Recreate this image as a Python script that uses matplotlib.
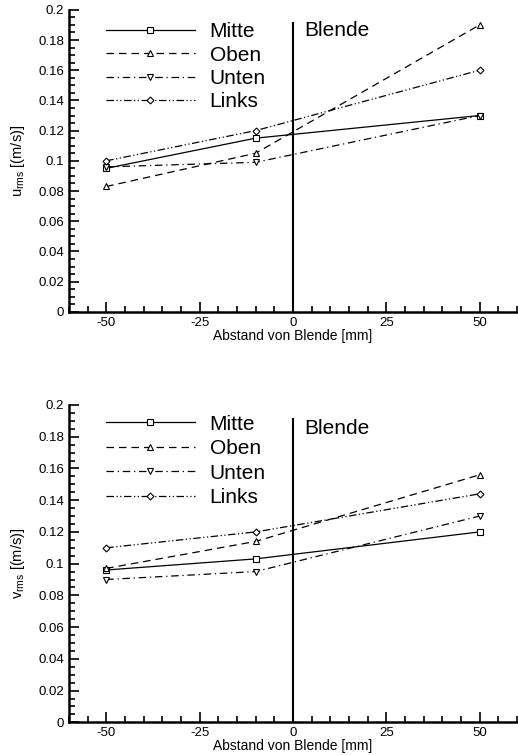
import matplotlib
matplotlib.use('Agg')
import matplotlib.pyplot as plt
from matplotlib.ticker import MultipleLocator

plt.rcParams['font.family'] = ['Liberation Sans', 'DejaVu Sans']
plt.rcParams['axes.unicode_minus'] = False

# measuring positions [mm]
x = [-50, -10, 50]
labels = ['Mitte', 'Oben', 'Unten', 'Links']

# u_rms [(m/s)]
u_mitte = [0.095, 0.115, 0.130]
u_oben = [0.083, 0.105, 0.190]
u_unten = [0.096, 0.099, 0.130]
u_links = [0.100, 0.120, 0.160]

# v_rms [(m/s)]
v_mitte = [0.096, 0.103, 0.120]
v_oben = [0.097, 0.114, 0.156]
v_unten = [0.090, 0.095, 0.130]
v_links = [0.110, 0.120, 0.144]

blende_x = 0

styles = [
    dict(linestyle='-', marker='s'),
    dict(linestyle=(0, (6, 4)), marker='^'),
    dict(linestyle=(0, (6, 3, 1, 3)), marker='v'),
    dict(linestyle=(0, (6, 2, 1, 2, 1, 2)), marker='D'),
]


def draw(ax, series, ylab, legend_top, spacing, blende_y):
    handles = []
    for ys, st in zip(series, styles):
        ms = 3.5 if st['marker'] == 'D' else 4
        h, = ax.plot(x, ys, color='black', lw=0.9, markersize=ms,
                     markerfacecolor='white', markeredgecolor='black',
                     markeredgewidth=0.8, **st)
        handles.append(h)
    ax.vlines(blende_x, 0, 0.192, color='black', lw=1.5)
    ax.text(3, blende_y, 'Blende', fontsize=15, va='center', ha='left')
    ax.legend(handles, labels, loc='upper left', bbox_to_anchor=(0.083, legend_top),
              frameon=False, handlelength=4.25, numpoints=1, fontsize=15,
              labelspacing=spacing, handletextpad=0.72, borderpad=0, borderaxespad=0)

    ax.set_xlim(-60, 60)
    ax.set_ylim(0, 0.2)
    ax.xaxis.set_major_locator(MultipleLocator(25))
    ax.xaxis.set_minor_locator(MultipleLocator(5))
    ax.yaxis.set_major_locator(MultipleLocator(0.02))
    ax.yaxis.set_minor_locator(MultipleLocator(0.005))
    ax.yaxis.set_major_formatter(plt.FuncFormatter(lambda v, p: ('%g' % round(v, 3))))
    ax.tick_params(which='both', direction='in', labelsize=9.5, width=1.2, top=False, right=False)
    ax.tick_params(which='major', length=7)
    ax.tick_params(which='minor', length=4)
    ax.spines['top'].set_visible(False)
    ax.spines['right'].set_visible(False)
    ax.spines['left'].set_linewidth(1.8)
    ax.spines['bottom'].set_linewidth(1.8)
    ax.set_xlabel('Abstand von Blende [mm]', fontsize=10, labelpad=0)
    ax.set_ylabel(ylab, fontsize=10.5, labelpad=8)


fig = plt.figure(figsize=(5.18, 7.55), dpi=100)
ax1 = fig.add_axes([0.133, 0.587, 0.865, 0.400])
ax2 = fig.add_axes([0.133, 0.0433, 0.865, 0.4203])

draw(ax1, [u_mitte, u_oben, u_unten, u_links], r'u$_{\mathregular{rms}}$ [(m/s)]',
     0.958, 0.2, 0.186)
draw(ax2, [v_mitte, v_oben, v_unten, v_links], r'v$_{\mathregular{rms}}$ [(m/s)]',
     0.97, 0.27, 0.185)

fig.savefig('out.png', dpi=100)
